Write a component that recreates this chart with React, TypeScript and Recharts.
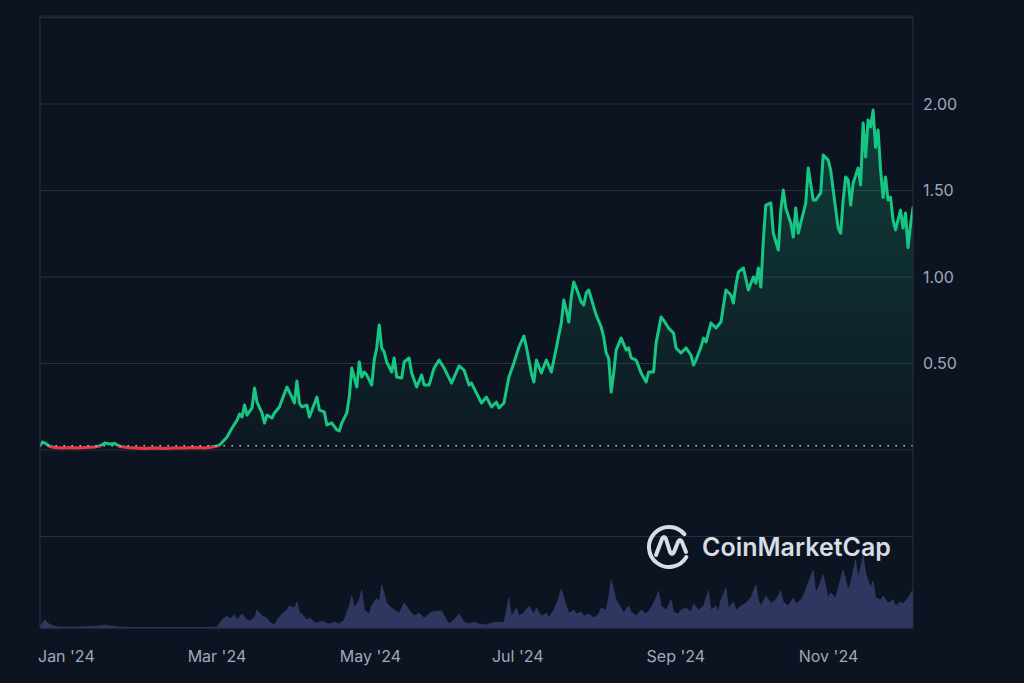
import React from "react";
import {
  ComposedChart,
  Area,
  XAxis,
  YAxis,
  CartesianGrid,
  ReferenceLine,
} from "recharts";

// Day index since 1 Jan 2024
const days = [
  0, 1, 2, 4, 6, 9, 12, 15, 18, 22, 24, 26, 28, 30, 32, 35, 38, 42, 46, 50, 54, 58, 62, 66, 69, 71,
  72, 75, 77, 79, 80, 81, 82, 83, 85, 86, 87, 89, 90, 91, 93, 94, 96, 97, 99, 101, 102, 103, 104, 105,
  107, 108, 111, 112, 114, 115, 117, 119, 120, 121, 123, 124, 125, 127, 128, 129, 130, 131, 133, 134,
  135, 136, 137, 138, 139, 141, 142, 143, 145, 146, 148, 149, 151, 153, 154, 156, 158, 160, 162, 164,
  165, 168, 170, 172, 173, 175, 177, 179, 181, 183, 184, 186, 188, 190, 192, 194, 195, 197, 198, 199,
  201, 203, 205, 207, 209, 210, 211, 212, 213, 214, 215, 217, 218, 219, 220, 222, 223, 225, 226, 227,
  228, 229, 230, 231, 233, 235, 236, 237, 239, 241, 243, 244, 246, 247, 249, 250, 252, 254, 255, 257,
  259, 261, 262, 263, 265, 266, 267, 269, 271, 273, 275, 277, 278, 279, 280, 282, 284, 286, 287, 288,
  289, 290, 291, 293, 294, 296, 297, 298, 299, 301, 302, 303, 304, 306, 307, 308, 310, 311, 313, 314,
  316, 317, 318, 320, 321, 322, 323, 324, 325, 326, 328, 329, 330, 331, 332, 333, 334, 335, 336, 337,
  338, 339, 340, 341, 342, 343, 344, 345, 346, 347, 348, 349, 350,
];

const prices = [
  0.023, 0.046, 0.04, 0.02, 0.014, 0.012, 0.015, 0.012, 0.015, 0.017, 0.023, 0.04, 0.035, 0.038, 0.02,
  0.015, 0.012, 0.009, 0.012, 0.009, 0.012, 0.012, 0.015, 0.012, 0.017, 0.023,
  0.029, 0.075, 0.127, 0.173, 0.208, 0.191, 0.26, 0.202, 0.243, 0.358, 0.277, 0.214, 0.156, 0.202,
  0.185, 0.214, 0.249, 0.289, 0.364, 0.306, 0.272, 0.399, 0.272, 0.249,
  0.26, 0.191, 0.306, 0.231, 0.22, 0.145, 0.156, 0.116, 0.11, 0.156, 0.214, 0.306, 0.474, 0.364, 0.509,
  0.422, 0.451, 0.434, 0.376, 0.52,
  0.59, 0.723, 0.59, 0.566, 0.509, 0.451, 0.532, 0.422, 0.416, 0.509, 0.532, 0.445, 0.364, 0.434, 0.376,
  0.376, 0.474, 0.52, 0.474, 0.416,
  0.387, 0.486, 0.462, 0.376, 0.387, 0.329, 0.272, 0.306, 0.249, 0.277, 0.243, 0.272, 0.422, 0.503,
  0.595, 0.659, 0.595, 0.445, 0.393, 0.52,
  0.445, 0.52, 0.451, 0.59, 0.734, 0.867, 0.809, 0.74, 0.884, 0.971, 0.936, 0.855, 0.838, 0.908, 0.925,
  0.827, 0.78, 0.711, 0.653, 0.561,
  0.53, 0.335, 0.445, 0.578, 0.647, 0.578, 0.59, 0.532, 0.52, 0.445, 0.393, 0.451, 0.451, 0.618, 0.769,
  0.751, 0.705, 0.676, 0.59, 0.561,
  0.59, 0.549, 0.491, 0.52, 0.595, 0.647, 0.624, 0.734, 0.705, 0.74, 0.925, 0.896, 0.85, 0.954, 1.029,
  1.052, 0.925, 1.0, 0.965, 1.052,
  0.942, 1.214, 1.416, 1.428, 1.254, 1.156, 1.387, 1.503, 1.399, 1.312, 1.231, 1.399, 1.254, 1.37,
  1.428, 1.63, 1.445, 1.445, 1.486, 1.705,
  1.676, 1.618, 1.503, 1.283, 1.254, 1.445, 1.578, 1.561, 1.416, 1.543, 1.63, 1.532, 1.89, 1.694, 1.908,
  1.867, 1.965, 1.75, 1.85, 1.62,
  1.46, 1.578, 1.445, 1.462, 1.33, 1.272, 1.33, 1.387, 1.283, 1.37, 1.17, 1.3, 1.4,
];

// Trading volume (USD millions) by day index
const volDays = [
  0, 1, 2, 3, 5, 8, 16, 24, 26, 28, 32, 36, 40, 45, 50, 55, 60, 64, 68, 71, 73, 75, 76, 78, 79, 81, 83,
  84, 86, 87, 89, 91, 92, 94, 95, 97, 99, 100, 102, 103, 104, 105, 107, 108, 110, 111, 113, 115, 116,
  118, 120, 122, 124, 125, 126, 128, 129, 130, 132, 133, 135, 136, 137, 139, 140, 142, 144, 146, 148,
  150, 152, 154, 156, 157, 161, 163, 164, 166, 168, 170, 172, 174, 176, 179, 181, 184, 186, 188, 189,
  191, 192, 194, 196, 198, 199, 201, 203, 204, 206, 208, 209, 211, 212, 214, 215, 217, 218, 220, 222,
  224, 225, 227, 228, 229, 231, 233, 234, 236, 237, 239, 241, 243, 245, 247, 248, 249, 251, 253, 254,
  256, 257, 259, 261, 262, 264, 266, 268, 269, 271, 272, 273, 275, 276, 278, 279, 281, 283, 285, 287,
  288, 289, 291, 293, 295, 297, 298, 300, 302, 303, 305, 306, 308, 310, 311, 312, 314, 316, 317, 319,
  320, 322, 324, 325, 327, 328, 330, 331, 333, 334, 335, 337, 338, 340, 342, 343, 345, 346, 348, 350,
];

const volumes = [
  20, 50, 80, 50, 20, 10, 10, 20, 30, 20, 10, 5, 5, 5, 5, 5, 5, 5, 5, 10, 80, 120, 90, 130, 80, 140, 80,
  70, 100, 180, 120, 100, 60, 30, 80, 140, 180, 220, 200, 260, 160, 140, 80, 100, 60, 50, 70, 50, 40,
  60, 40, 80, 220, 320, 200, 280, 380, 180, 140, 220, 300, 250, 430, 250, 220, 180, 150, 250, 180,
  120, 150, 100, 140, 160, 170, 80, 40, 80, 140, 60, 40, 60, 40, 30, 50, 60, 50, 300, 120,
  200, 120, 150, 220, 140, 200, 120, 150, 100, 180, 300, 390, 220, 150, 180, 140, 160, 120, 140, 100,
  140, 200, 180, 300, 480, 280, 200, 150, 220, 160, 120, 180, 140, 200, 300, 370, 220, 180, 280, 160,
  140, 180, 200, 160, 240, 180, 220, 370, 180, 220, 160, 280, 400, 200, 260, 180, 220, 250, 300, 430,
  280, 220, 320, 250, 280, 370, 260, 220, 300, 240, 280, 320, 450, 580, 350, 400, 530, 300, 350, 300,
  400, 580, 380, 450, 680, 500, 720, 550, 400, 470, 300, 280, 320, 250, 280, 220, 260, 240, 300, 380,
];

const monthTicks = [0, 60, 121, 182, 244, 305];
const monthLabels = ["Jan '24", "Mar '24", "May '24", "Jul '24", "Sep '24", "Nov '24"];
const priceTicks = [-0.5, 0, 0.5, 1, 1.5, 2, 2.5];
const openPrice = 0.025;

const BG = "#0d1421";
const GRID = "#2a303d";
const TEXT = "#a1a7bb";
const GREEN = "#16c784";
const RED = "#ea3943";
const FONT = "Inter, 'Noto Sans', sans-serif";

type Row = { day: number; price?: number; volume?: number };

const rowMap = new Map<number, Row>();
days.forEach((d, i) => {
  const r = rowMap.get(d) || { day: d };
  r.price = prices[i];
  rowMap.set(d, r);
});
volDays.forEach((d, i) => {
  const r = rowMap.get(d) || { day: d };
  r.volume = volumes[i];
  rowMap.set(d, r);
});
const data: Row[] = Array.from(rowMap.values()).sort((a, b) => a.day - b.day);

const pMax = Math.max(...prices);
const pMin = Math.min(...prices);
const splitOff = (pMax - openPrice) / (pMax - pMin);

const MonthTick = (props: any) => {
  const { x, y, payload } = props;
  const idx = monthTicks.indexOf(payload.value);
  return (
    <text x={x - 2} y={y + 34} fill={TEXT} fontSize={16} fontFamily={FONT} textAnchor="start">
      {idx >= 0 ? monthLabels[idx] : ""}
    </text>
  );
};

const fmtPrice = (v: number) => (v >= 0.5 && v <= 2 ? v.toFixed(2) : "");

export default function App() {
  return (
    <div
      style={{
        position: "fixed",
        left: 0,
        top: 0,
        width: 1024,
        height: 683,
        background: BG,
        fontFamily: FONT,
        overflow: "hidden",
      }}
    >
      <ComposedChart
        width={1024}
        height={683}
        data={data}
        margin={{ top: 16, right: 0, bottom: 0, left: 0 }}
      >
        <defs>
          <linearGradient id="strokeGrad" x1="0" y1="0" x2="0" y2="1">
            <stop offset={0} stopColor={GREEN} />
            <stop offset={splitOff} stopColor={GREEN} />
            <stop offset={splitOff} stopColor={RED} />
            <stop offset={1} stopColor={RED} />
          </linearGradient>
          <linearGradient id="fillGrad" x1="0" y1="0" x2="0" y2="1">
            <stop offset={0} stopColor={GREEN} stopOpacity={0.24} />
            <stop offset={splitOff} stopColor={GREEN} stopOpacity={0.02} />
            <stop offset={splitOff} stopColor={RED} stopOpacity={0.1} />
            <stop offset={1} stopColor={RED} stopOpacity={0.1} />
          </linearGradient>
        </defs>
        <CartesianGrid vertical={false} stroke={GRID} strokeWidth={1} />
        <XAxis
          dataKey="day"
          type="number"
          domain={[0, 350]}
          ticks={monthTicks}
          interval={0}
          tick={<MonthTick />}
          tickLine={false}
          tickSize={0}
          tickMargin={0}
          axisLine={{ stroke: GRID }}
          height={55}
          allowDataOverflow
        />
        <YAxis
          orientation="right"
          type="number"
          domain={[-1.029, 2.509]}
          ticks={priceTicks}
          interval={0}
          tickFormatter={fmtPrice}
          tick={{ fill: TEXT, fontSize: 16, fontFamily: FONT }}
          tickLine={false}
          tickMargin={4}
          axisLine={{ stroke: GRID }}
          width={111}
          allowDataOverflow
        />
        <YAxis
          yAxisId="v"
          orientation="left"
          type="number"
          domain={[0, 6120]}
          tick={false}
          tickLine={false}
          axisLine={{ stroke: GRID }}
          width={40}
          allowDataOverflow
        />
        <Area
          yAxisId="v"
          dataKey="volume"
          type="linear"
          fill="#2f3760"
          fillOpacity={1}
          stroke="#363f6b"
          strokeWidth={0.6}
          connectNulls
          dot={false}
          activeDot={false}
          isAnimationActive={false}
        />
        <ReferenceLine
          y={openPrice}
          stroke="#b3b8c6"
          strokeWidth={1.6}
          strokeDasharray="1.6 6.4"
        />
        <Area
          dataKey="price"
          type="linear"
          baseValue={openPrice}
          stroke="url(#strokeGrad)"
          strokeWidth={3}
          strokeLinejoin="round"
          strokeLinecap="round"
          fill="url(#fillGrad)"
          fillOpacity={1}
          connectNulls
          dot={false}
          activeDot={false}
          isAnimationActive={false}
        />
      </ComposedChart>
      <div
        style={{
          position: "absolute",
          left: 646,
          top: 524,
          display: "flex",
          alignItems: "center",
          color: "#d9dce3",
        }}
      >
        <svg width={46} height={46} viewBox="0 0 46 46">
          <path
            d="M 40.3 33 A 20 20 0 1 1 38.3 10.1"
            fill="none"
            stroke="#d9dce3"
            strokeWidth={4}
            strokeLinecap="round"
          />
          <path
            d="M 10 31 L 16 15 Q 18 11 20 15 L 24 28 Q 26 32 28 28 L 32 18 Q 34 14 36 18 L 40 28"
            fill="none"
            stroke="#d9dce3"
            strokeWidth={4}
            strokeLinecap="round"
            strokeLinejoin="round"
          />
        </svg>
        <span
          style={{
            marginLeft: 10,
            fontSize: 25,
            fontWeight: 600,
            fontFamily: FONT,
            letterSpacing: 0,
            lineHeight: "46px",
          }}
        >
          CoinMarketCap
        </span>
      </div>
    </div>
  );
}
